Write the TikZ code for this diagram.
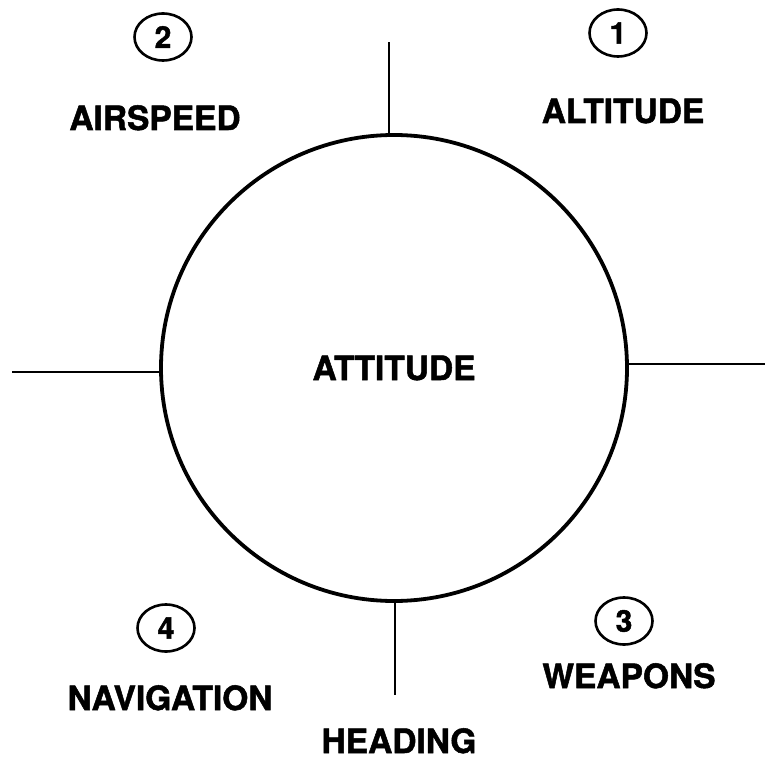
\documentclass[tikz,border=0pt]{standalone}
\usepackage{fontspec}
\setmainfont{TeX Gyre Heros}[BoldFeatures={FakeBold=1.5}]
\usetikzlibrary{shapes.geometric}
\begin{document}
\begin{tikzpicture}[x=1pt,y=-1pt,
  lbl/.style={font=\bfseries\fontsize{33.5}{36}\selectfont, inner sep=0pt, anchor=base},
  num/.style={draw, ellipse, line width=2.6pt, minimum width=57pt, minimum height=47pt, inner sep=0pt, font=\bfseries\fontsize{30}{32}\selectfont},
  spoke/.style={line width=2.5pt}]
\useasboundingbox (0,0) rectangle (765,759);
\node[draw, circle, line width=3.8pt, minimum size=466pt, inner sep=0pt] (c) at (394,368) {};
\node[lbl] (att) at (394,380) {ATTITUDE};
\coordinate (t) at (389,42);
\coordinate (l) at (12,372);
\coordinate (r) at (765,364);
\coordinate (b) at (395,695);
\draw[spoke] (c.north -| t) -- (t);
\draw[spoke] (c.west |- l) -- (l);
\draw[spoke] (c.east |- r) -- (r);
\draw[spoke] (c.south -| b) -- (b);
\node[num] (n2) at (163,37) {2};
\node[lbl] (as) at (155,130) {AIRSPEED};
\node[num] (n1) at (618,33) {1};
\node[lbl] (al) at (623,123) {ALTITUDE};
\node[num] (n4) at (166,628) {4};
\node[lbl] (nv) at (170,710) {NAVIGATION};
\node[num] (n3) at (624,621) {3};
\node[lbl] (wp) at (629,688) {WEAPONS};
\node[lbl] (hd) at (399,753) {HEADING};
\end{tikzpicture}
\end{document}
